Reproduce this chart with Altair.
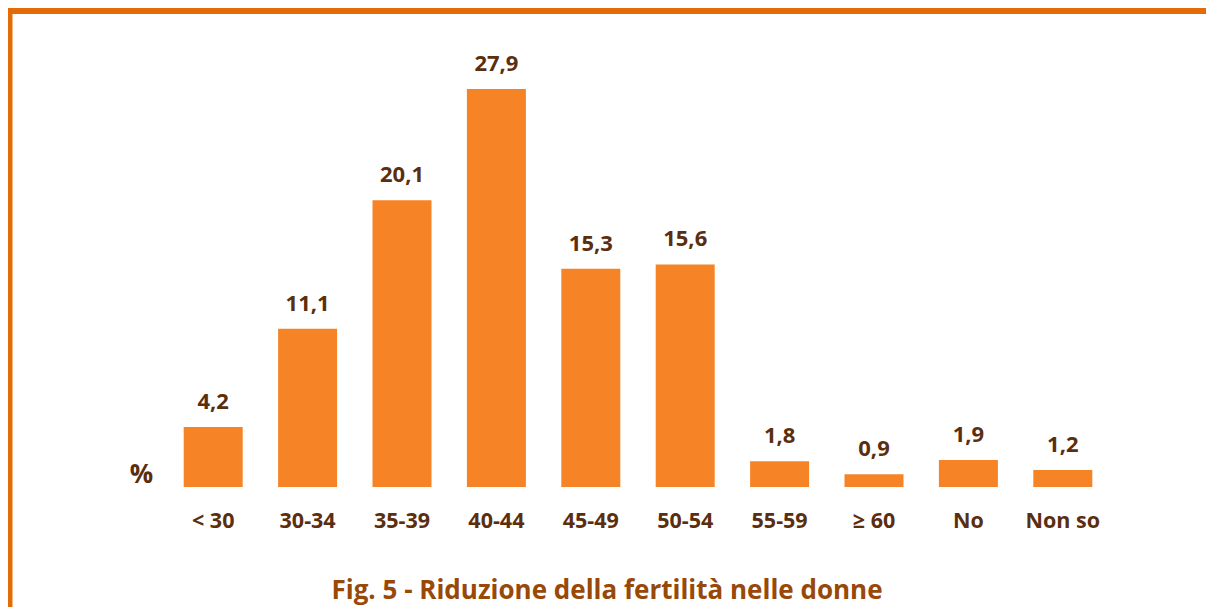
import altair as alt
import pandas as pd

categories = ["< 30", "30-34", "35-39", "40-44", "45-49", "50-54", "55-59", "≥ 60", "No", "Non so"]
values = [4.2, 11.1, 20.1, 27.9, 15.3, 15.6, 1.8, 0.9, 1.9, 1.2]
labels = [f"{v:.1f}".replace(".", ",") for v in values]
title_text = "Fig. 5 - Riduzione della fertilità nelle donne"

df = pd.DataFrame({"cat": categories, "val": values, "lab": labels})

FONT = "Open Sans"
BAR = "#F68427"
TXT = "#5A2E0E"
TITLE_C = "#984807"
BORDER = "#E36C09"

x_enc = alt.X("cat:N", sort=categories,
              scale=alt.Scale(paddingInner=0.375, paddingOuter=0.1875),
              axis=alt.Axis(title=None, labelAngle=0, ticks=False, domain=False,
                            labelPadding=23, labelFont=FONT, labelFontSize=21.5,
                            labelFontWeight="bold", labelColor=TXT, grid=False))
y_enc = alt.Y("val:Q", scale=alt.Scale(domain=[0, 30], nice=False),
              axis=alt.Axis(title="%", labels=False, ticks=False, domain=False, grid=False,
                            titleAngle=0, titleX=-25, titleY=415, titleAlign="center",
                            titleBaseline="middle", titleFont=FONT, titleFontSize=26,
                            titleFontWeight="bold", titleColor=TXT))

bars = alt.Chart(df).mark_bar(color=BAR).encode(x=x_enc, y=y_enc)
text = alt.Chart(df).mark_text(font=FONT, fontSize=22, fontWeight="bold", color=TXT,
                               baseline="alphabetic", dy=-18).encode(
    x=alt.X("cat:N", sort=categories), y="val:Q", text="lab:N")

frame = alt.Chart(alt.Data(values=[{}])).mark_rect(
    fill=None, stroke=BORDER, strokeWidth=6).encode(
    x=alt.value(-156.5), x2=alt.value(1200), y=alt.value(-48), y2=alt.value(700))

title = alt.Chart(alt.Data(values=[{"t": title_text}])).mark_text(
    font=FONT, fontSize=26, fontWeight="bold", color=TITLE_C,
    align="center", baseline="alphabetic").encode(
    text="t:N", x=alt.value(441), y=alt.value(540))

chart = alt.layer(frame, bars, text, title).properties(
    width=944, height=428,
    autosize=alt.AutoSizeParams(type="none"),
    padding={"left": 158, "top": 51, "right": 96, "bottom": 120},
).configure_view(stroke=None)

chart.save("out.html", embed_options={"renderer": "svg", "actions": False})
